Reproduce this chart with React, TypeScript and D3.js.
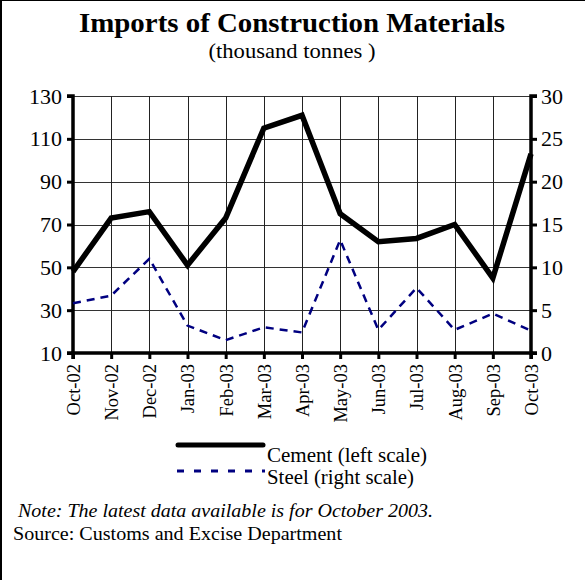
import React, { useRef, useEffect } from "react";
import * as d3 from "d3";

const months = ["Oct-02", "Nov-02", "Dec-02", "Jan-03", "Feb-03", "Mar-03", "Apr-03", "May-03", "Jun-03", "Jul-03", "Aug-03", "Sep-03", "Oct-03"];
const cement = [48, 73, 76, 51, 73, 115, 121, 75, 62, 63.5, 70, 45, 103];
const steel = [5.8, 6.7, 11.0, 3.2, 1.5, 3.0, 2.4, 13.2, 2.7, 7.6, 2.7, 4.6, 2.6];
const leftTicks = [10, 30, 50, 70, 90, 110, 130];
const rightTicks = [0, 5, 10, 15, 20, 25, 30];

const W = 585;
const H = 580;
const font = "'Liberation Serif', 'Times New Roman', serif";

const App = () => {
  const svgRef = useRef<SVGSVGElement>(null);

  useEffect(() => {
    const svg = d3.select(svgRef.current);
    svg.selectAll("*").remove();

    const left = 73, right = 531, top = 96, bottom = 353;

    const x = d3.scalePoint<string>().domain(months).range([left, right]);
    const yL = d3.scaleLinear().domain([10, 130]).range([bottom, top]);
    const yR = d3.scaleLinear().domain([0, 30]).range([bottom, top]);

    // frame edges
    svg.append("line").attr("x1", 0).attr("x2", W).attr("y1", 0.5).attr("y2", 0.5).attr("stroke", "#000").attr("stroke-width", 1);
    svg.append("line").attr("x1", 1).attr("x2", 1).attr("y1", 0).attr("y2", H).attr("stroke", "#000").attr("stroke-width", 2);

    // title
    svg.append("text").attr("x", 292).attr("y", 32).attr("text-anchor", "middle")
      .style("font-family", font).style("font-size", "28px").style("font-weight", "bold")
      .attr("textLength", 426).attr("lengthAdjust", "spacingAndGlyphs")
      .text("Imports of Construction Materials");
    svg.append("text").attr("x", 292).attr("y", 58).attr("text-anchor", "middle")
      .style("font-family", font).style("font-size", "21px")
      .attr("textLength", 167).attr("lengthAdjust", "spacingAndGlyphs")
      .text("(thousand tonnes )");

    // grid
    const grid = svg.append("g");
    grid.selectAll(".hg").data(leftTicks).join("line")
      .attr("x1", left).attr("x2", right)
      .attr("y1", d => Math.round(yL(d)) + 0.5).attr("y2", d => Math.round(yL(d)) + 0.5)
      .attr("stroke", "#333").attr("stroke-width", 1);
    grid.selectAll(".vg").data(months).join("line")
      .attr("x1", d => Math.round(x(d)!) + 0.5).attr("x2", d => Math.round(x(d)!) + 0.5)
      .attr("y1", top).attr("y2", bottom)
      .attr("stroke", "#222").attr("stroke-width", 1);

    // axes
    const leftAxis = d3.axisLeft(yL).tickValues(leftTicks).tickSize(6).tickPadding(5);
    const gL = svg.append("g").attr("transform", `translate(${left},0)`).call(leftAxis);
    const rightAxis = d3.axisRight(yR).tickValues(rightTicks).tickSize(6).tickPadding(4);
    const gR = svg.append("g").attr("transform", `translate(${right},0)`).call(rightAxis);
    const bottomAxis = d3.axisBottom(x).tickSize(6).tickPadding(4);
    const gB = svg.append("g").attr("transform", `translate(0,${bottom})`).call(bottomAxis);

    [gL, gR, gB].forEach(g => {
      g.select(".domain").attr("stroke", "#000").attr("stroke-width", 3.5);
      g.selectAll(".tick line").attr("stroke", "#000").attr("stroke-width", 3);
      g.selectAll("text").style("font-family", font).style("font-size", "22px").attr("fill", "#000");
    });
    gL.select(".domain").attr("d", `M-6,${top}H0V${bottom}H-6`);
    gR.select(".domain").attr("d", `M6,${top}H0V${bottom}H6`);
    gB.select(".domain").attr("d", `M${left},6V0H${right}V6`);
    gB.selectAll("text")
      .attr("transform", "rotate(-90)")
      .attr("text-anchor", "end")
      .attr("x", -11).attr("y", 0).attr("dy", "0.35em")
      .style("font-size", "18.5px");

    // lines
    const cementLine = d3.line<number>().x((_, i) => x(months[i])!).y(d => yL(d));
    const steelLine = d3.line<number>().x((_, i) => x(months[i])!).y(d => yR(d));

    svg.append("path").datum(steel).attr("d", steelLine)
      .attr("fill", "none").attr("stroke", "#000080").attr("stroke-width", 2.5)
      .attr("stroke-dasharray", "8,6");
    svg.append("path").datum(cement).attr("d", cementLine)
      .attr("fill", "none").attr("stroke", "#000").attr("stroke-width", 5.5)
      .attr("stroke-linejoin", "miter");

    // legend
    svg.append("line").attr("x1", 178).attr("x2", 263).attr("y1", 445).attr("y2", 445)
      .attr("stroke", "#000").attr("stroke-width", 5).attr("stroke-linecap", "round");
    svg.append("text").attr("x", 267).attr("y", 462)
      .style("font-family", font).style("font-size", "20px")
      .attr("textLength", 160).attr("lengthAdjust", "spacingAndGlyphs")
      .text("Cement (left scale)");
    svg.append("line").attr("x1", 177).attr("x2", 265).attr("y1", 471).attr("y2", 471)
      .attr("stroke", "#000080").attr("stroke-width", 3).attr("stroke-dasharray", "7,10");
    svg.append("text").attr("x", 267).attr("y", 484)
      .style("font-family", font).style("font-size", "20px")
      .attr("textLength", 147).attr("lengthAdjust", "spacingAndGlyphs")
      .text("Steel (right scale)");

    // notes
    svg.append("text").attr("x", 18).attr("y", 517)
      .style("font-family", font).style("font-size", "19px").style("font-style", "italic")
      .attr("textLength", 415).attr("lengthAdjust", "spacingAndGlyphs")
      .text("Note: The latest data available is for October 2003.");
    svg.append("text").attr("x", 13).attr("y", 540)
      .style("font-family", font).style("font-size", "19px")
      .attr("textLength", 329).attr("lengthAdjust", "spacingAndGlyphs")
      .text("Source: Customs and Excise Department");
  }, []);

  return (
    <svg ref={svgRef} width={W} height={H}
      style={{ position: "absolute", left: 0, top: 0, background: "#fff", display: "block" }} />
  );
};

export default App;
